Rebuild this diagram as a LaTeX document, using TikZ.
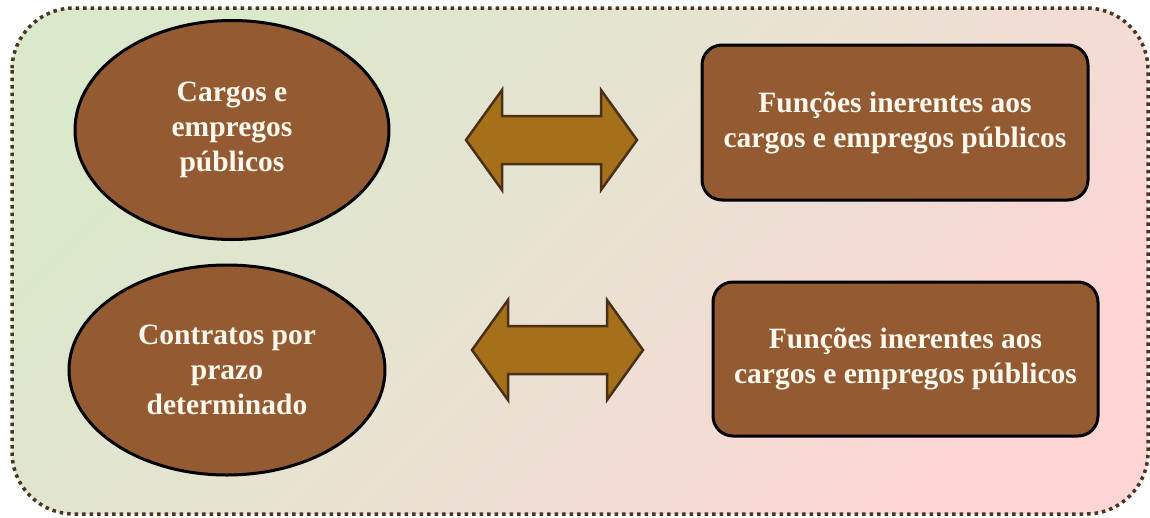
\documentclass[tikz,border=0pt]{standalone}
\usepackage{fontspec}
\setmainfont{Liberation Serif}
\usetikzlibrary{shapes.geometric}
\definecolor{bgGreen}{HTML}{DAE8CB}
\definecolor{bgMid}{HTML}{E9E2D3}
\definecolor{bgPink}{HTML}{FDD5D4}
\definecolor{frameDot}{HTML}{4A3520}
\definecolor{boxFill}{HTML}{945B33}
\definecolor{arrowFill}{HTML}{A57019}
\definecolor{arrowLine}{HTML}{4A3017}
\definecolor{txt}{HTML}{FDF8EE}
\tikzset{
  x=1pt, y=-1pt,
  label text/.style={text=txt, font=\fontsize{29.5}{35}\selectfont\bfseries, align=center},
  oval/.style={ellipse, draw=black, line width=3pt, fill=boxFill, inner sep=0pt, label text},
  fbox/.style={rectangle, rounded corners=20pt, draw=black, line width=3pt, fill=boxFill, inner sep=0pt, label text},
  dblarrow/.style={fill=arrowFill, draw=arrowLine, line width=2.5pt, line join=miter}
}
% double-headed arrow centred at (#1,#2)
\newcommand{\twoway}[2]{%
  \draw[dblarrow] (#1-85,#2) -- (#1-49,#2-50) -- (#1-49,#2-24) -- (#1+50,#2-24)
    -- (#1+50,#2-50) -- (#1+86,#2) -- (#1+50,#2+50) -- (#1+50,#2+24)
    -- (#1-49,#2+24) -- (#1-49,#2+50) -- cycle;}
\begin{document}
\begin{tikzpicture}
\useasboundingbox (0,0) rectangle (1150,517);
% shaded frame
\shade[top color=bgGreen, bottom color=bgPink, middle color=bgMid, shading angle=45, rounded corners=62pt]
  (12,8) rectangle (1148,514);
\draw[frameDot, line width=3.5pt, dash pattern=on 3.5pt off 4pt, rounded corners=62pt]
  (12,8) rectangle (1148,514);

% left ovals
\node[oval, minimum width=314pt, minimum height=219pt] (cargos) at (232,130)
  {Cargos e\\empregos\\públicos};
\node[oval, minimum width=316pt, minimum height=210pt] (contratos) at (227,370)
  {Contratos por\\prazo\\determinado};

% right boxes
\node[fbox, minimum width=386pt, minimum height=155pt] (func1) at (895,122.5)
  {Funções inerentes aos\\cargos e empregos públicos};
\node[fbox, minimum width=385pt, minimum height=154pt] (func2) at (905.5,359)
  {Funções inerentes aos\\cargos e empregos públicos};

% arrows between them
\twoway{551}{140}
\twoway{557}{350}
\end{tikzpicture}
\end{document}
